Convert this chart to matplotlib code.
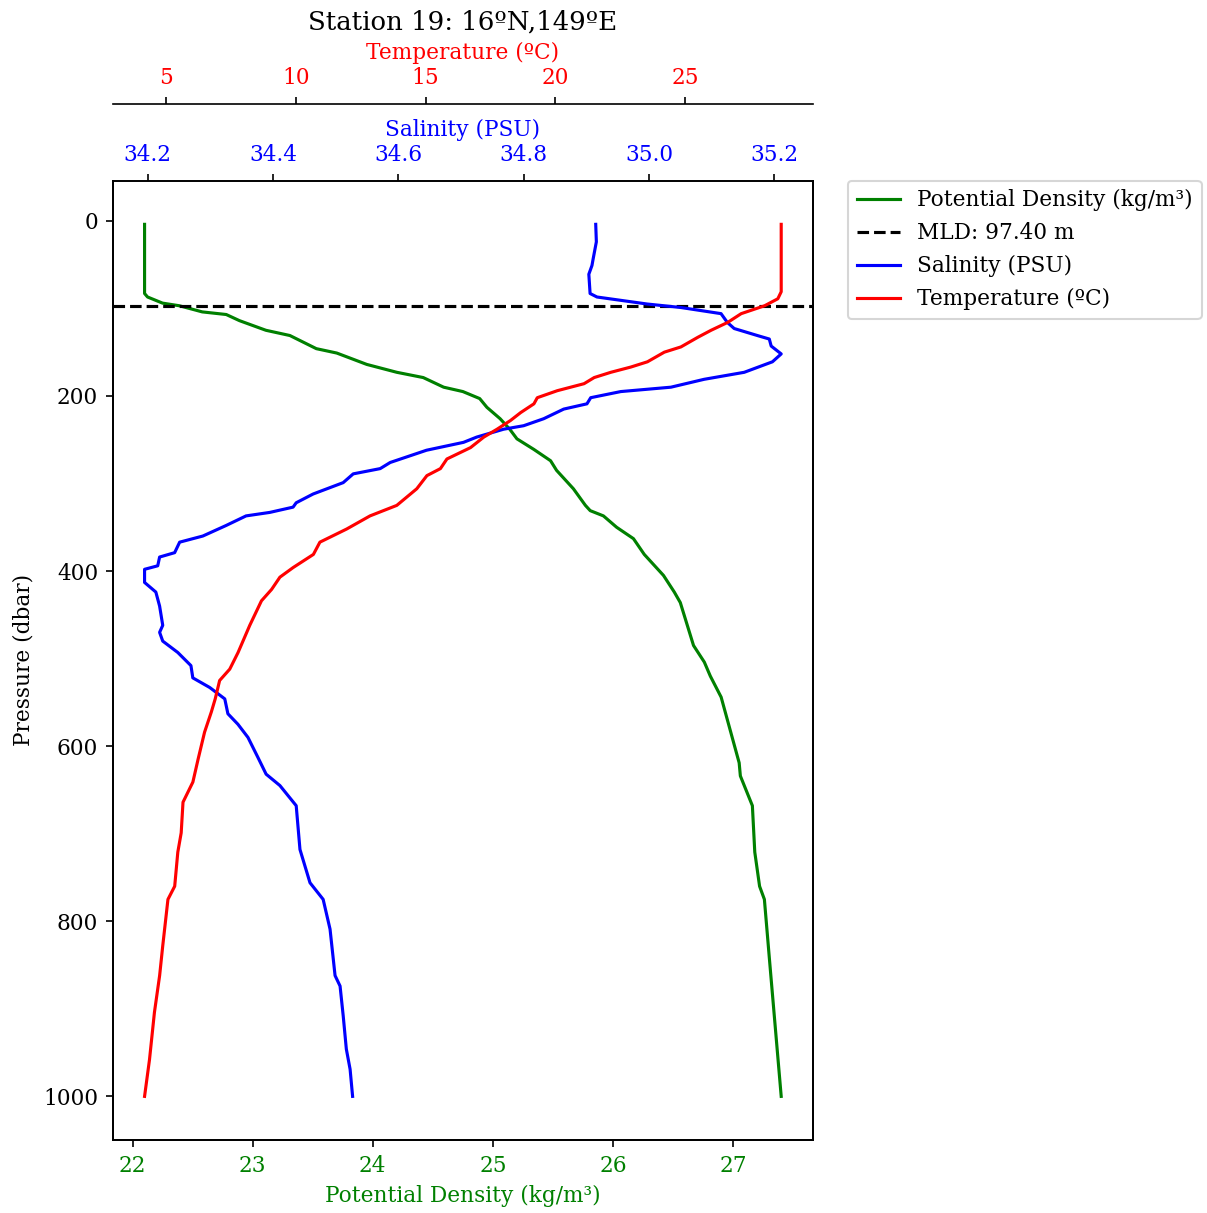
import matplotlib.pyplot as plt

plt.rcParams['font.family'] = ['DejaVu Serif']
plt.rcParams['font.size'] = 10.4

# Station 19 profile
p_dens = [4, 83, 87, 94, 97, 104, 107, 114, 125, 131, 146, 151, 164, 173, 179, 190, 195,
          203, 213, 226, 238, 249, 261, 274, 285, 306, 325, 331, 337, 350, 363, 381, 405,
          424, 436, 485, 504, 520, 544, 584, 619, 634, 668, 721, 760, 775, 840, 904, 1000]
dens = [22.10, 22.10, 22.125, 22.25, 22.39, 22.58, 22.78, 22.89, 23.11, 23.31, 23.53,
        23.70, 23.95, 24.20, 24.42, 24.59, 24.75, 24.89, 24.95, 25.06, 25.14, 25.20, 25.34,
        25.48, 25.53, 25.67, 25.77, 25.81, 25.92, 26.03, 26.17, 26.26, 26.42, 26.51, 26.56,
        26.67, 26.76, 26.81, 26.90, 26.98, 27.05, 27.06, 27.16, 27.18, 27.22, 27.26, 27.30,
        27.34, 27.40]

p_sal = [4, 24, 43, 51, 61, 83, 87, 95, 99, 106, 116, 123, 131, 135, 143, 152, 161, 173,
         181, 190, 195, 202, 209, 215, 226, 234, 238, 247, 253, 262, 276, 283, 289, 299,
         312, 322, 327, 333, 337, 348, 360, 367, 379, 384, 394, 398, 413, 424, 440, 462,
         470, 480, 493, 508, 522, 533, 546, 563, 575, 590, 613, 632, 645, 668, 718, 756,
         775, 809, 862, 874, 908, 946, 969, 1000]
sal = [34.915, 34.916, 34.911, 34.909, 34.904, 34.906, 34.917, 34.997, 35.051, 35.115,
       35.125, 35.136, 35.173, 35.192, 35.195, 35.211, 35.197, 35.152, 35.088, 35.035,
       34.955, 34.907, 34.901, 34.864, 34.832, 34.800, 34.768, 34.725, 34.704, 34.645,
       34.587, 34.571, 34.528, 34.512, 34.464, 34.437, 34.432, 34.395, 34.357, 34.325,
       34.288, 34.251, 34.243, 34.219, 34.216, 34.195, 34.195, 34.213, 34.219, 34.224,
       34.219, 34.224, 34.248, 34.269, 34.272, 34.299, 34.323, 34.328, 34.344, 34.360,
       34.376, 34.389, 34.411, 34.437, 34.443, 34.459, 34.480, 34.491, 34.499, 34.507,
       34.512, 34.517, 34.523, 34.527]

p_temp = [4, 81, 89, 97, 106, 116, 125, 133, 144, 150, 161, 167, 173, 179, 186, 194, 202,
          209, 219, 228, 238, 247, 259, 272, 283, 291, 306, 325, 337, 352, 367, 381, 396,
          407, 421, 434, 462, 493, 512, 525, 546, 561, 584, 615, 641, 664, 699, 721, 760,
          775, 828, 862, 904, 958, 1000]
temp = [28.69, 28.69, 28.56, 28.05, 27.15, 26.63, 25.99, 25.48, 24.83, 24.19, 23.54,
        22.90, 22.13, 21.49, 21.10, 20.07, 19.30, 19.17, 18.66, 18.27, 17.75, 17.24, 16.73,
        15.82, 15.57, 15.05, 14.66, 13.89, 12.86, 11.96, 10.93, 10.68, 9.90, 9.39, 9.07,
        8.68, 8.23, 7.78, 7.46, 7.07, 6.90, 6.75, 6.49, 6.24, 6.04, 5.66, 5.59, 5.46, 5.34,
        5.08, 4.88, 4.76, 4.56, 4.37, 4.18]

mld = 97.40

fig = plt.figure(figsize=(1207 / 150, 1213 / 150), dpi=150)
ax = fig.add_axes([0.0934, 0.0602, 0.5802, 0.7908])

l1, = ax.plot(dens, p_dens, c='green', label='Potential Density (kg/m³)')
l2 = ax.axhline(mld, c='k', ls='--', label='MLD: %.2f m' % mld)
ax.invert_yaxis()
ax.set_ylabel('Pressure (dbar)')
ax.set_xlabel('Potential Density (kg/m³)', color='green')
ax.tick_params(axis='x', labelcolor='green')

ax2 = ax.twiny()
l3, = ax2.plot(sal, p_sal, c='blue', label='Salinity (PSU)')
ax2.set_xlabel('Salinity (PSU)', color='blue')
ax2.tick_params(axis='x', labelcolor='blue')

ax3 = ax.twiny()
ax3.spines['top'].set_position(('axes', 1.08))
l4, = ax3.plot(temp, p_temp, c='red', label='Temperature (ºC)')
ax3.set_xlabel('Temperature (ºC)', color='red')
ax3.tick_params(axis='x', labelcolor='red')
ax3.set_title('Station 19: 16ºN,149ºE')

ax.legend(handles=[l1, l2, l3, l4], loc='upper left', bbox_to_anchor=(1.05, 1.0),
          borderaxespad=0)

fig.savefig('out.png', dpi=150)
